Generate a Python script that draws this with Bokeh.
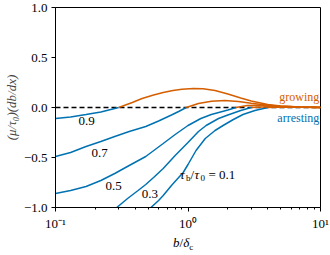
from bokeh.plotting import figure
from bokeh.models import Label, FixedTicker, Span, Div
from bokeh.layouts import column
from bokeh.embed import file_html
from bokeh.resources import INLINE

# ---- data ----
x_09 = [0.1, 0.13, 0.17, 0.22, 0.3, 0.38, 0.45, 0.55, 0.65, 0.77, 0.9, 1.1, 1.3, 1.6, 2.0, 2.5, 3.0, 4.0, 5.0, 7.0, 10.0]
y_09 = [-0.11, -0.095, -0.07, -0.045, 0.0, 0.05, 0.09, 0.125, 0.15, 0.17, 0.183, 0.19, 0.188, 0.17, 0.135, 0.095, 0.065, 0.03, 0.015, 0.005, 0.002]

x_07 = [0.1, 0.13, 0.17, 0.22, 0.28, 0.36, 0.48, 0.6, 0.75, 0.85, 0.97, 1.2, 1.5, 1.9, 2.4, 3.0, 4.0, 5.0, 7.0, 10.0]
y_07 = [-0.49, -0.45, -0.39, -0.34, -0.29, -0.24, -0.19, -0.135, -0.075, -0.04, 0.0, 0.04, 0.062, 0.07, 0.06, 0.042, 0.022, 0.012, 0.004, 0.001]

x_05 = [0.1, 0.13, 0.17, 0.22, 0.28, 0.36, 0.48, 0.65, 0.8, 1.0, 1.25, 1.5, 2.0, 2.3, 2.8, 3.5, 5.0, 7.0, 10.0]
y_05 = [-0.86, -0.83, -0.79, -0.73, -0.66, -0.58, -0.49, -0.36, -0.27, -0.18, -0.11, -0.07, -0.025, 0.0, 0.02, 0.022, 0.012, 0.004, 0.001]

x_03 = [0.29, 0.35, 0.42, 0.48, 0.55, 0.65, 0.8, 1.0, 1.2, 1.37, 1.7, 2.0, 2.5, 3.0, 4.0, 6.0, 10.0]
y_03 = [-1.0, -0.91, -0.83, -0.77, -0.70, -0.61, -0.48, -0.35, -0.24, -0.18, -0.11, -0.075, -0.03, 0.0, 0.008, 0.004, 0.001]

x_01 = [0.525, 0.6, 0.65, 0.75, 0.85, 0.92, 1.0, 1.15, 1.35, 1.6, 1.84, 2.2, 2.6, 3.2, 4.0, 5.0, 7.0, 10.0]
y_01 = [-1.0, -0.93, -0.88, -0.78, -0.70, -0.65, -0.57, -0.43, -0.31, -0.23, -0.18, -0.12, -0.07, -0.03, 0.0, 0.004, 0.002, 0.001]

curves = [(x_09, y_09), (x_07, y_07), (x_05, y_05), (x_03, y_03), (x_01, y_01)]

curve_labels = ["0.9", "0.7", "0.5", "0.3"]
curve_label_x = [0.172, 0.215, 0.275, 0.515]
curve_label_y = [-0.13, -0.45, -0.78, -0.86]

x_ticks = [0.1, 1, 10]
x_tick_labels = ["10\u207b\u00b9", "10\u2070", "10\u00b9"]
x_minor = [0.2, 0.3, 0.4, 0.5, 0.6, 0.7, 0.8, 0.9, 2, 3, 4, 5, 6, 7, 8, 9]
y_ticks = [-1.0, -0.5, 0.0, 0.5, 1.0]
y_tick_labels = ["\u22121.0", "\u22120.5", "0.0", "0.5", "1.0"]

BLUE = "#0072B2"
ORANGE = "#D55E00"
SERIF = "Liberation Serif"

p = figure(
    x_axis_type="log", x_range=(0.1, 10), y_range=(-1, 1),
    frame_width=265, frame_height=200,
    min_border_left=53, min_border_right=12, min_border_top=7, min_border_bottom=25,
    output_backend="svg", toolbar_location=None,
)
p.grid.visible = False
p.outline_line_color = "black"
p.outline_line_width = 1
p.background_fill_color = "white"

for ax in (p.xaxis[0], p.yaxis[0]):
    ax.axis_line_color = "black"
    ax.major_tick_in = 0
    ax.major_tick_out = 4
    ax.minor_tick_in = 0
    ax.minor_tick_out = 2
    ax.major_tick_line_color = "black"
    ax.minor_tick_line_color = "black"
    ax.major_label_text_font = SERIF
    ax.major_label_text_font_size = "13px"
    ax.major_label_text_color = "black"

p.xaxis[0].ticker = FixedTicker(ticks=x_ticks, minor_ticks=x_minor)
p.xaxis[0].major_label_overrides = {t: l for t, l in zip(x_ticks, x_tick_labels)}
p.xaxis[0].major_label_standoff = 4

p.yaxis[0].ticker = FixedTicker(ticks=y_ticks, minor_ticks=[])
p.yaxis[0].major_label_overrides = {t: l for t, l in zip(y_ticks, y_tick_labels)}
p.yaxis[0].major_label_standoff = 4
p.yaxis[0].axis_label = "(\u03bc/\u03c4\u2080)(db/dx)"
p.yaxis[0].axis_label_text_font = SERIF
p.yaxis[0].axis_label_text_font_style = "italic"
p.yaxis[0].axis_label_text_font_size = "13px"
p.yaxis[0].axis_label_standoff = 2

# zero line
p.add_layout(Span(location=0, dimension="width", line_color="black",
                  line_dash="5 3", line_width=1.3, level="underlay"))

# curves: blue where negative, orange where positive
for xs, ys in curves:
    i0 = next(i for i, v in enumerate(ys) if v >= 0)
    p.line(xs[: i0 + 1], ys[: i0 + 1], line_color=BLUE, line_width=1.5)
for xs, ys in curves:
    i0 = next(i for i, v in enumerate(ys) if v >= 0)
    p.line(xs[i0:], ys[i0:], line_color=ORANGE, line_width=1.5)

for t, lx, ly in zip(curve_labels, curve_label_x, curve_label_y):
    p.add_layout(Label(x=lx, y=ly, text=t, text_font=SERIF, text_font_size="13px",
                       text_align="center", text_baseline="middle", text_color="black"))

# tau_b/tau_0 = 0.1 label (composite with subscripts)
bx, by = 0.869, -0.67
parts = [("\u03c4", 0, 0.0, "13px", "italic"),
         ("b", 6, -0.035, "9px", "normal"),
         ("/", 10.5, 0.0, "13px", "normal"),
         ("\u03c4", 14.5, 0.0, "13px", "italic"),
         ("0", 20.5, -0.035, "9px", "normal"),
         ("= 0.1", 28.5, 0.0, "13px", "normal")]
for t, dx, dy, fs, st in parts:
    p.add_layout(Label(x=bx, y=by + dy, x_offset=dx, text=t, text_font=SERIF,
                       text_font_size=fs, text_font_style=st, text_align="left",
                       text_baseline="middle", text_color="black"))

p.add_layout(Label(x=9.8, y=0.11, text="growing", text_font=SERIF, text_font_size="12px",
                   text_align="right", text_baseline="middle", text_color=ORANGE))
p.add_layout(Label(x=9.8, y=-0.10, text="arresting", text_font=SERIF, text_font_size="12px",
                   text_align="right", text_baseline="middle", text_color=BLUE))

# x-axis label b/delta_c (HTML so the subscript is real text)
xlabel = Div(
    text=("<div style=\"padding-left:173px; line-height:20px; font-family:'Liberation Serif'; "
          "font-size:13px; color:black; white-space:nowrap;\"><i>b</i>/<i>\u03b4</i>"
          "<span style=\"font-size:9px; position:relative; top:3px;\">c</span></div>"),
    width=330, height=22, margin=(0, 0, 0, 0),
)

layout = column(p, xlabel, spacing=0)
open("out.html", "w").write(file_html(layout, INLINE))
